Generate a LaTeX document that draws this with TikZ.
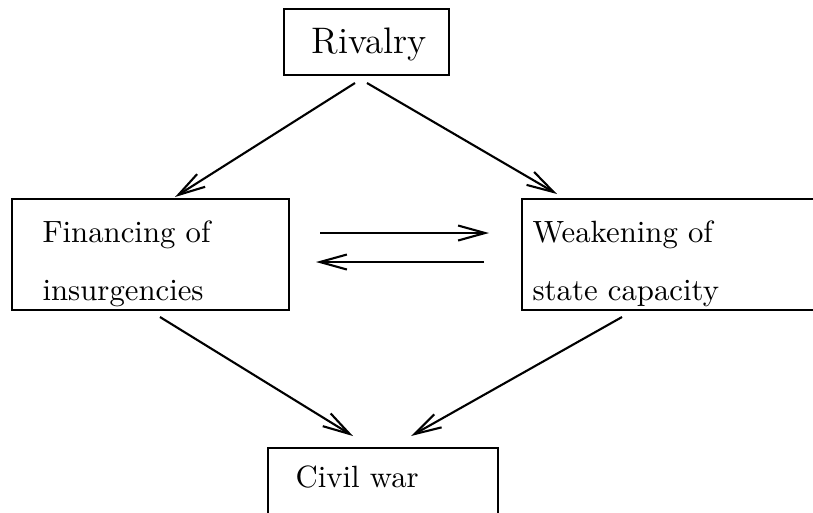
\documentclass[tikz,border=0pt]{standalone}
\usetikzlibrary{arrows.meta}
\begin{document}
\begin{tikzpicture}[x=0.33333pt,y=-0.33333pt,
  box/.style={draw,line width=0.8pt,rectangle,inner sep=0pt},
  txt/.style={inner sep=0pt,anchor=base west,font=\fontsize{10.25}{12}\selectfont},
  conn/.style={line width=0.7pt,-{Straight Barb[length=9pt,width=5pt,line width=0.7pt]}}]
\useasboundingbox (0,0) rectangle (813,512);
% boxes
\node[box,minimum width=55pt,minimum height=22pt] (rivbox) at (366.5,42) {};
\node[box,minimum width=92.33pt,minimum height=37pt] (finbox) at (150.5,254.5) {};
\node[box,minimum width=102.67pt,minimum height=37pt] (weakbox) at (676,254.5) {};
\node[box,minimum width=76.67pt,minimum height=37.33pt] (civbox) at (383,504) {};
% texts
\node[txt,font=\fontsize{12.3}{15}\selectfont] (rivtxt) at (311,53) {Rivalry};
\node[txt] (fin1) at (42,242) {Financing of};
\node[txt] (fin2) at (42,300) {insurgencies};
\node[txt] (weak1) at (532,242) {Weakening of};
\node[txt] (weak2) at (532,300) {state capacity};
\node[txt] (civtxt) at (295,487) {Civil war};
% connector end points
\coordinate (a1s) at (355,83);  \coordinate (a1e) at (175,197);
\coordinate (a2s) at (367,83);  \coordinate (a2e) at (557,194);
\coordinate (a3s) at (320,233); \coordinate (a3e) at (489,233);
\coordinate (a4s) at (484,262); \coordinate (a4e) at (316,262);
\coordinate (a5s) at (160,317); \coordinate (a5e) at (353,436);
\coordinate (a6s) at (622,317); \coordinate (a6e) at (411,436);
\draw[conn] (a1s) -- (a1e);
\draw[conn] (a2s) -- (a2e);
\draw[conn] (a3s) -- (a3e);
\draw[conn] (a4s) -- (a4e);
\draw[conn] (a5s) -- (a5e);
\draw[conn] (a6s) -- (a6e);
\end{tikzpicture}
\end{document}
